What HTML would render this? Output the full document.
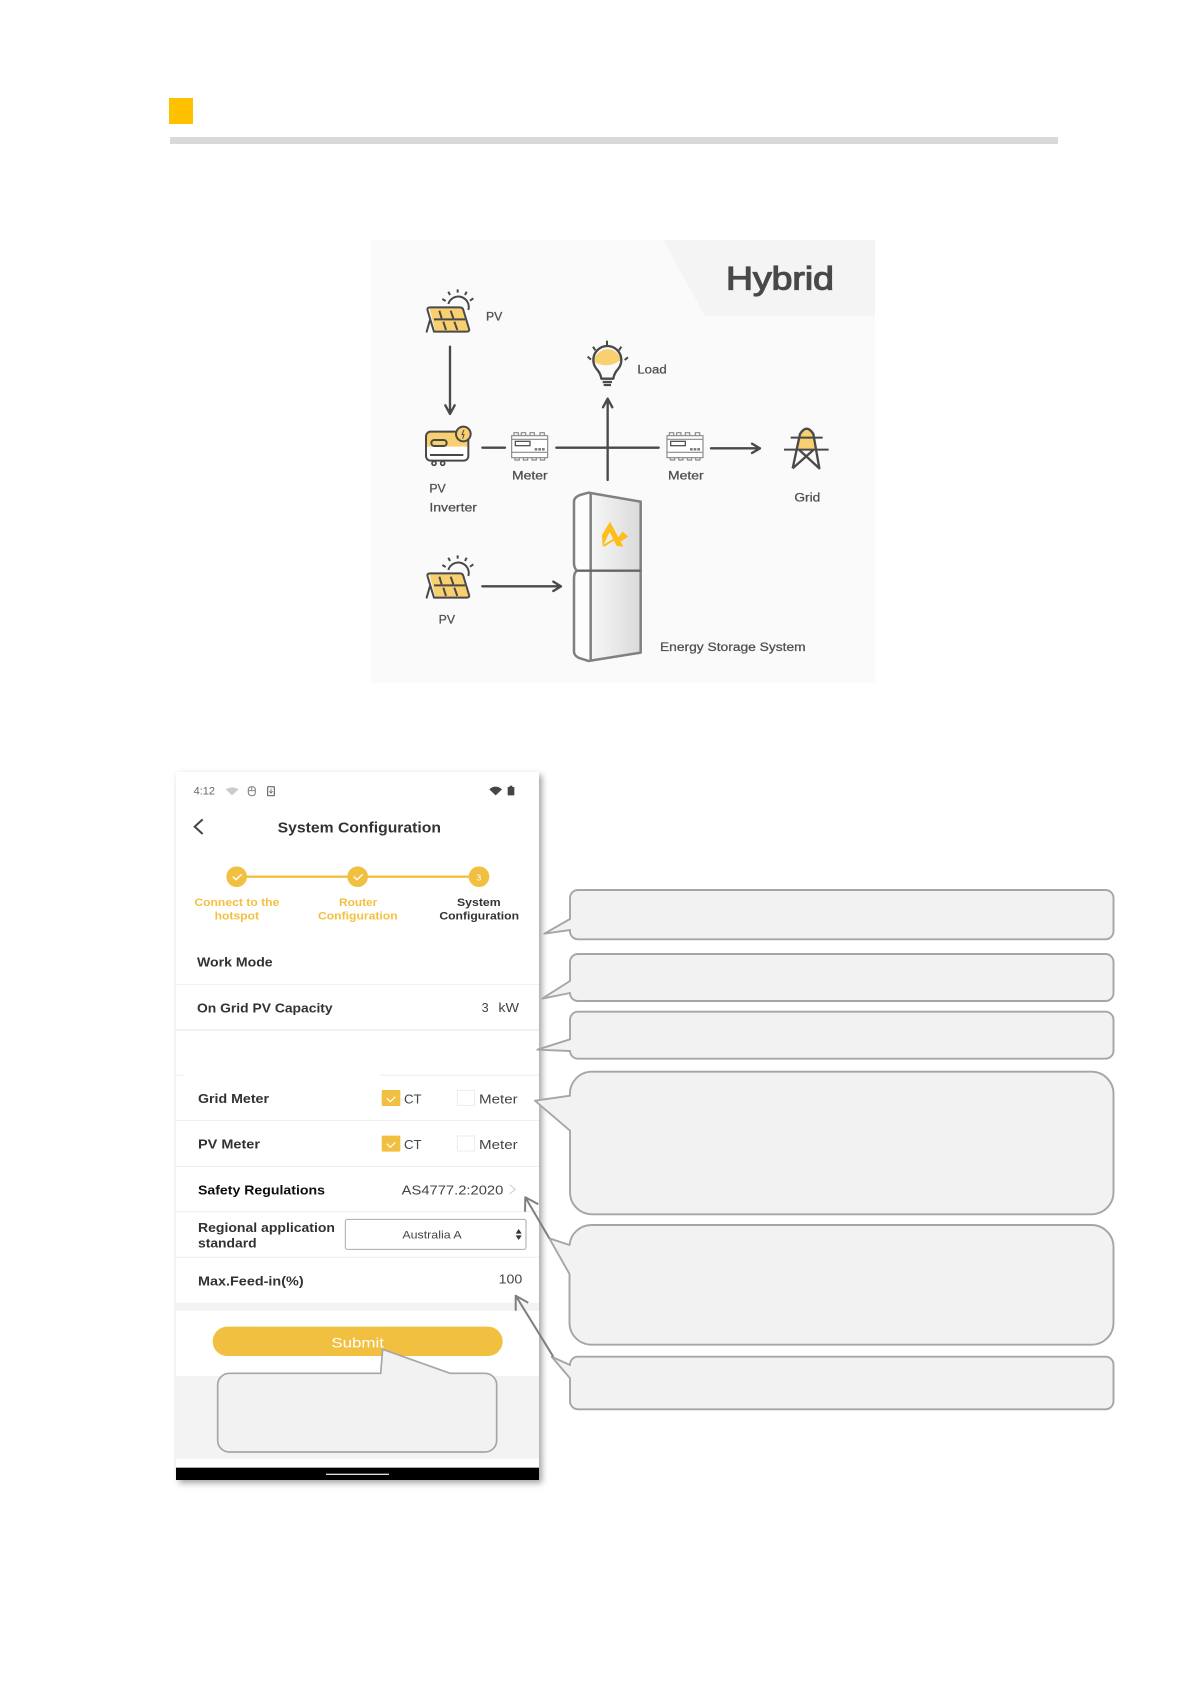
<!DOCTYPE html>
<html>
<head>
<meta charset="utf-8">
<style>
html,body{margin:0;padding:0;background:#fff;width:1192px;height:1685px;overflow:hidden}
#phone{position:absolute;left:176px;top:772px;width:363px;height:708px;background:#fff;box-shadow:3px 3px 6px rgba(0,0,0,.36)}
svg{position:absolute;left:0;top:0}
text{font-family:"Liberation Sans",sans-serif}
</style>
</head>
<body>
<div id="phone"></div>
<svg width="1192" height="1685" viewBox="0 0 1192 1685" xmlns="http://www.w3.org/2000/svg">
<defs>
<filter id="soft" x="-2%" y="-2%" width="104%" height="104%"><feGaussianBlur stdDeviation="0.35"/></filter>
<linearGradient id="ess" x1="0" x2="1"><stop offset="0" stop-color="#f7f7f7"/><stop offset="1" stop-color="#dadada"/></linearGradient>
<g id="panel">
<path d="M208,234 H308 L326,303 H226 Z" fill="#F9D06F"/>
<path d="M222,305 H320 Q330,305 327,296 L310,240 Q308,232 300,232 H210 Q200,232 203,242 L222,305 M210,270 L200,305" fill="none" stroke="#4a4a4a" stroke-width="6" stroke-linejoin="round" stroke-linecap="round"/>
<path d="M222,268 H315 M238,242 L245,265 M272,242 L280,265 M250,275 L258,300 M283,275 L292,300" stroke="#4a4a4a" stroke-width="6" fill="none"/>
<path d="M265,222 A30,30 0 0 1 325,240" fill="none" stroke="#4a4a4a" stroke-width="6"/>
<path d="M293,178 V188 M265,185 L270,195 M320,185 L315,195 M247,207 L257,213 M340,205 L330,212" stroke="#4a4a4a" stroke-width="6"/>
</g>
<g id="meter">
<rect x="455" y="617" width="108" height="66" fill="#fff" stroke="#8a8a8a" stroke-width="3.5"/>
<path d="M462,617 V608 H475 V617 M484,617 V608 H497 V617 M510,617 V608 H523 V617 M540,617 V608 H553 V617 M465,683 V690 H478 V683 M490,683 V690 H503 V683 M516,683 V690 H529 V683 M541,683 V690 H554 V683" fill="none" stroke="#8a8a8a" stroke-width="3.5"/>
<path d="M455,628 H563 M455,667 H563" stroke="#8a8a8a" stroke-width="3.5"/>
<rect x="466" y="634" width="44" height="13" fill="#fff" stroke="#555" stroke-width="4"/>
<path d="M524,658 H556" stroke="#777" stroke-width="7" stroke-dasharray="8 3"/>
</g>
</defs>

<!-- header -->
<rect x="169" y="98" width="24" height="26" fill="#FFC000"/>
<rect x="170" y="137" width="888" height="7" fill="#D9D9D9"/>

<!-- hybrid diagram -->
<rect x="371" y="240" width="504" height="443.3" fill="#FAFAFA"/>
<g transform="translate(360,230) scale(.33333)" filter="url(#soft)">
<path d="M910,30 H1545 V258 H1035 Z" fill="#F4F4F4"/>
<text x="1098" y="178" font-size="96" fill="#484848" stroke="#484848" stroke-width="3.5" textLength="324" lengthAdjust="spacingAndGlyphs">Hybrid</text>
<use href="#panel"/>
<use href="#panel" y="798"/>
<g fill="#4f4f4f" stroke="#4f4f4f" stroke-width=".8" font-size="36">
<text x="378" y="272" textLength="49" lengthAdjust="spacingAndGlyphs">PV</text>
<text x="832" y="430" textLength="88" lengthAdjust="spacingAndGlyphs">Load</text>
<text x="456" y="748" textLength="107" lengthAdjust="spacingAndGlyphs">Meter</text>
<text x="924" y="748" textLength="107" lengthAdjust="spacingAndGlyphs">Meter</text>
<text x="208" y="787" textLength="49" lengthAdjust="spacingAndGlyphs">PV</text>
<text x="208" y="845" textLength="143" lengthAdjust="spacingAndGlyphs">Inverter</text>
<text x="1303" y="814" textLength="78" lengthAdjust="spacingAndGlyphs">Grid</text>
<text x="236" y="1180" textLength="49" lengthAdjust="spacingAndGlyphs">PV</text>
<text x="900" y="1263" textLength="437" lengthAdjust="spacingAndGlyphs">Energy Storage System</text>
</g>
<g stroke="#4a4a4a" stroke-width="7" fill="none" stroke-linejoin="round" stroke-linecap="round">
<path d="M270,350 V552 M256,526 L270,552 L284,526"/>
<path d="M367,653 H435 M589,653 H896"/>
<path d="M743,750 V506 M729,532 L743,506 L757,532"/>
<path d="M1053,655 H1200 M1176,641 L1200,655 L1176,669"/>
<path d="M367,1069 H603 M580,1055 L603,1069 L580,1083"/>
</g>
<!-- inverter -->
<rect x="198" y="605" width="127" height="87" rx="14" fill="#fff"/>
<path d="M198,650 V619 Q198,605 212,605 H325 V650 Z" fill="#F9D06F"/>
<rect x="198" y="605" width="127" height="87" rx="14" fill="none" stroke="#4a4a4a" stroke-width="6"/>
<rect x="214" y="630" width="46" height="18" rx="9" fill="none" stroke="#4a4a4a" stroke-width="6"/>
<path d="M210,675 H310" stroke="#4a4a4a" stroke-width="6"/>
<circle cx="222" cy="700" r="6" fill="none" stroke="#4a4a4a" stroke-width="5"/>
<circle cx="248" cy="700" r="6" fill="none" stroke="#4a4a4a" stroke-width="5"/>
<circle cx="310" cy="612" r="22" fill="#F9D06F" stroke="#4a4a4a" stroke-width="6"/>
<path d="M312,600 L306,614 H312 L308,626" stroke="#4a4a4a" stroke-width="3" fill="none"/>
<use href="#meter"/>
<use href="#meter" x="466"/>
<!-- bulb -->
<path d="M702,396 A41,41 0 0 1 783,390 Q745,418 702,396 Z" fill="#F9D06F"/>
<path d="M724,446 Q722,430 709,416 A42,42 0 1 1 775,416 Q762,430 760,446 Z" fill="none" stroke="#4a4a4a" stroke-width="7" stroke-linejoin="round"/>
<path d="M728,456 H756 M731,465 H753" stroke="#4a4a4a" stroke-width="7"/>
<path d="M741,332 V346 M699,350 L706,361 M784,350 L777,361 M683,380 L693,389 M804,382 L794,390" stroke="#4a4a4a" stroke-width="6"/>
<!-- tower -->
<path d="M1310,660 L1320,612 Q1340,580 1360,612 L1370,660 Z" fill="#F9D06F"/>
<path d="M1298,715 L1320,612 Q1340,580 1360,612 L1378,715 L1318,660 M1360,660 L1298,715" fill="none" stroke="#4a4a4a" stroke-width="7" stroke-linejoin="round"/>
<path d="M1292,623 H1388 M1272,659 H1406" stroke="#4a4a4a" stroke-width="6"/>
<!-- ESS -->
<path d="M642,815 Q642,802 660,795 L685,788 L692,790 V1291 L685,1293 L655,1283 Q642,1276 642,1265 V1045 Q642,1030 650,1022 Q642,1012 642,1000 Z" fill="#fdfdfd"/>
<path d="M692,790 L842,815 V1268 L692,1291 Z" fill="url(#ess)"/>
<path d="M642,815 Q642,802 660,795 L685,788 L842,815 V1268 L685,1293 L655,1283 Q642,1276 642,1265 V1045 Q642,1030 650,1022 Q642,1012 642,1000 Z" fill="none" stroke="#808080" stroke-width="7.5" stroke-linejoin="round"/>
<path d="M692,790 V1291" stroke="#808080" stroke-width="7.5"/>
<path d="M650,1022 H842" stroke="#666" stroke-width="7"/>
<path d="M750,875 L790,950 L770,948 L749,906 L728,950 L726,915 Z" fill="#FBBE1E"/>
<path d="M772,925 L788,905 L805,920 L782,935 Z" fill="#FBBE1E"/>
<path d="M730,948 L768,925" stroke="#FBBE1E" stroke-width="6"/>
</g>

<!-- phone top -->
<g transform="translate(160,760) scale(.33333)" filter="url(#soft)">
<text x="101" y="104" font-size="32" fill="#666" textLength="64" lengthAdjust="spacingAndGlyphs">4:12</text>
<path d="M197,88 Q216,76 236,88 L216,106 Z" fill="#ccc"/>
<rect x="265" y="80" width="21" height="27" rx="9" fill="none" stroke="#888" stroke-width="3.5"/>
<path d="M265,92 H286 M275,80 V92" stroke="#888" stroke-width="3"/>
<rect x="323" y="80" width="20" height="27" rx="2" fill="none" stroke="#666" stroke-width="3.5"/>
<path d="M333,86 V98 M328,94 L333,99 L338,94" stroke="#666" stroke-width="2.5" fill="none"/>
<path d="M988,88 Q1006,72 1026,88 L1007,106 Z" fill="#444"/>
<rect x="1043" y="81" width="20" height="25" rx="2" fill="#444"/>
<rect x="1049" y="77" width="8" height="5" fill="#444"/>
<path d="M128,178 L104,200 L128,222" fill="none" stroke="#444" stroke-width="6"/>
<text x="353" y="218" font-size="44" font-weight="bold" fill="#333" textLength="490" lengthAdjust="spacingAndGlyphs">System Configuration</text>
<path d="M230,350 H957" stroke="#F2C040" stroke-width="7"/>
<circle cx="230" cy="350" r="31" fill="#F2C040"/>
<circle cx="593" cy="350" r="31" fill="#F2C040"/>
<circle cx="957" cy="350" r="31" fill="#F2C040"/>
<path d="M218,350 L228,359 L245,343 M581,350 L591,359 L608,343" fill="none" stroke="#fff" stroke-width="4"/>
<text x="949" y="361" font-size="26" fill="#fff">3</text>
<g font-size="34" font-weight="bold" fill="#F3C040">
<text x="103" y="438" textLength="255" lengthAdjust="spacingAndGlyphs">Connect to the</text>
<text x="164" y="478" textLength="133" lengthAdjust="spacingAndGlyphs">hotspot</text>
<text x="537" y="438" textLength="115" lengthAdjust="spacingAndGlyphs">Router</text>
<text x="474" y="478" textLength="239" lengthAdjust="spacingAndGlyphs">Configuration</text>
</g>
<g font-size="34" font-weight="bold" fill="#333">
<text x="891" y="438" textLength="131" lengthAdjust="spacingAndGlyphs">System</text>
<text x="838" y="478" textLength="239" lengthAdjust="spacingAndGlyphs">Configuration</text>
</g>
<g font-size="38" font-weight="bold" fill="#333">
<text x="111" y="620" textLength="227" lengthAdjust="spacingAndGlyphs">Work Mode</text>
<text x="111" y="758" textLength="407" lengthAdjust="spacingAndGlyphs">On Grid PV Capacity</text>
</g>
<text x="965" y="756" font-size="38" fill="#444">3</text>
<text x="1015" y="756" font-size="38" fill="#444" textLength="62" lengthAdjust="spacingAndGlyphs">kW</text>
<rect x="48" y="672" width="1089" height="3" fill="#f1f1f1"/>
<rect x="48" y="807" width="1089" height="5" fill="#eeeeee"/>
<rect x="48" y="944" width="22" height="3" fill="#ececec"/>
<rect x="660" y="944" width="477" height="3" fill="#ececec"/>
</g>

<!-- phone bottom -->
<g transform="translate(160,1080) scale(.33333)" filter="url(#soft)">
<g font-size="38" font-weight="bold" fill="#333">
<text x="114" y="69" textLength="213" lengthAdjust="spacingAndGlyphs">Grid Meter</text>
<text x="114" y="206" textLength="186" lengthAdjust="spacingAndGlyphs">PV Meter</text>
<text x="114" y="616" textLength="317" lengthAdjust="spacingAndGlyphs">Max.Feed-in(%)</text>
<text x="114" y="456" textLength="411" lengthAdjust="spacingAndGlyphs">Regional application</text>
<text x="114" y="502" textLength="176" lengthAdjust="spacingAndGlyphs">standard</text>
</g>
<text x="114" y="343" font-size="38" font-weight="bold" fill="#111" textLength="381" lengthAdjust="spacingAndGlyphs">Safety Regulations</text>
<rect x="665" y="30" width="56" height="48" rx="3" fill="#F2C040"/>
<rect x="665" y="167" width="56" height="48" rx="3" fill="#F2C040"/>
<path d="M680,54 L691,65 L706,50 M680,191 L691,202 L706,187" fill="none" stroke="#fff" stroke-width="3.5"/>
<rect x="892" y="31" width="52" height="45" fill="#fff" stroke="#e8e8e8" stroke-width="2.5"/>
<rect x="892" y="168" width="52" height="45" fill="#fff" stroke="#e8e8e8" stroke-width="2.5"/>
<g font-size="38" fill="#444">
<text x="732" y="70" textLength="53" lengthAdjust="spacingAndGlyphs">CT</text>
<text x="957" y="70" textLength="116" lengthAdjust="spacingAndGlyphs">Meter</text>
<text x="732" y="207" textLength="53" lengthAdjust="spacingAndGlyphs">CT</text>
<text x="957" y="207" textLength="116" lengthAdjust="spacingAndGlyphs">Meter</text>
<text x="725" y="343" textLength="305" lengthAdjust="spacingAndGlyphs">AS4777.2:2020</text>
<text x="1016" y="610" textLength="71" lengthAdjust="spacingAndGlyphs">100</text>
</g>
<path d="M1049,314 L1066,328 L1049,342" fill="none" stroke="#ccc" stroke-width="3"/>
<rect x="48" y="120" width="1089" height="3" fill="#efefef"/>
<rect x="48" y="258" width="1089" height="3" fill="#efefef"/>
<rect x="48" y="393" width="1089" height="4" fill="#f2f2f2"/>
<rect x="48" y="530" width="1089" height="4" fill="#f2f2f2"/>
<rect x="556" y="418" width="542" height="90" rx="6" fill="#fff" stroke="#aaa" stroke-width="3"/>
<text x="727" y="476" font-size="32" fill="#444" textLength="178" lengthAdjust="spacingAndGlyphs">Australia A</text>
<path d="M1067,461 L1076,447 L1085,461 Z M1067,466 L1076,480 L1085,466 Z" fill="#333"/>
<rect x="48" y="668" width="1089" height="24" fill="#f3f3f3"/>
<rect x="48" y="888" width="1089" height="248" fill="#f3f3f3"/>
<rect x="48" y="1163" width="1089" height="37" fill="#000"/>
<rect x="498" y="1181" width="189" height="4" fill="#ddd"/>
<rect x="158" y="740" width="870" height="88" rx="44" fill="#F2C040"/>
<text x="514" y="802" font-size="42" fill="#fff" textLength="158" lengthAdjust="spacingAndGlyphs">Submit</text>
</g>
<g transform="translate(160,1080) scale(.33333)">
<path d="M208,880 H662 L668,808 L870,880 H975 A35,35 0 0 1 1010,915 V1081 A35,35 0 0 1 975,1116 H208 A35,35 0 0 1 173,1081 V915 A35,35 0 0 1 208,880 Z" fill="#f2f2f2" stroke="#a6a6a6" stroke-width="5"/>
</g>

<!-- callouts -->
<g fill="#f2f2f2" stroke="#a6a6a6" stroke-width="1.9" stroke-linejoin="round">
<path d="M578,890 H1105.5 a8,8 0 0 1 8,8 V931.3 a8,8 0 0 1 -8,8 H578 a8,8 0 0 1 -8,-8 V930 L544.3,933.7 L570,919 V898 a8,8 0 0 1 8,-8 Z"/>
<path d="M578,954 H1105.5 a8,8 0 0 1 8,8 V993 a8,8 0 0 1 -8,8 H578 a8,8 0 0 1 -8,-8 L542,998.7 L570,981 V962 a8,8 0 0 1 8,-8 Z"/>
<path d="M578,1011.7 H1105.5 a8,8 0 0 1 8,8 V1050.7 a8,8 0 0 1 -8,8 H578 a8,8 0 0 1 -8,-7.7 L537.3,1049.7 L570,1039.3 V1019.7 a8,8 0 0 1 8,-8 Z"/>
<path d="M592,1071.7 H1091.5 a22,22 0 0 1 22,22 V1192.3 a22,22 0 0 1 -22,22 H592 a22,22 0 0 1 -22,-22 V1130.7 L535,1100.7 L570,1095.7 a22,22 0 0 1 22,-24 Z"/>
<path d="M591.5,1225 H1091.5 a22,22 0 0 1 22,22 V1322.7 a22,22 0 0 1 -22,22 H591.5 a22,22 0 0 1 -22,-22 V1274 L549.3,1238.3 L569.5,1245 a22,22 0 0 1 22,-20 Z"/>
<path d="M578,1356.7 H1105.5 a8,8 0 0 1 8,8 V1401.3 a8,8 0 0 1 -8,8 H578 a8,8 0 0 1 -8,-8 V1378.3 L551.7,1356.7 L570,1365 a8,8 0 0 1 8,-8.3 Z"/>
</g>
<g fill="none" stroke="#7f7f7f" stroke-width="2" stroke-linejoin="round">
<path d="M549.3,1238.3 L525.3,1197.3 M538.3,1204.3 L525.3,1197.3 L525,1211.7"/>
<path d="M553.3,1356.7 L515.7,1295.7 M528.3,1302.7 L515.7,1295.7 L515.7,1310.7"/>
</g>
</svg>
</body>
</html>
